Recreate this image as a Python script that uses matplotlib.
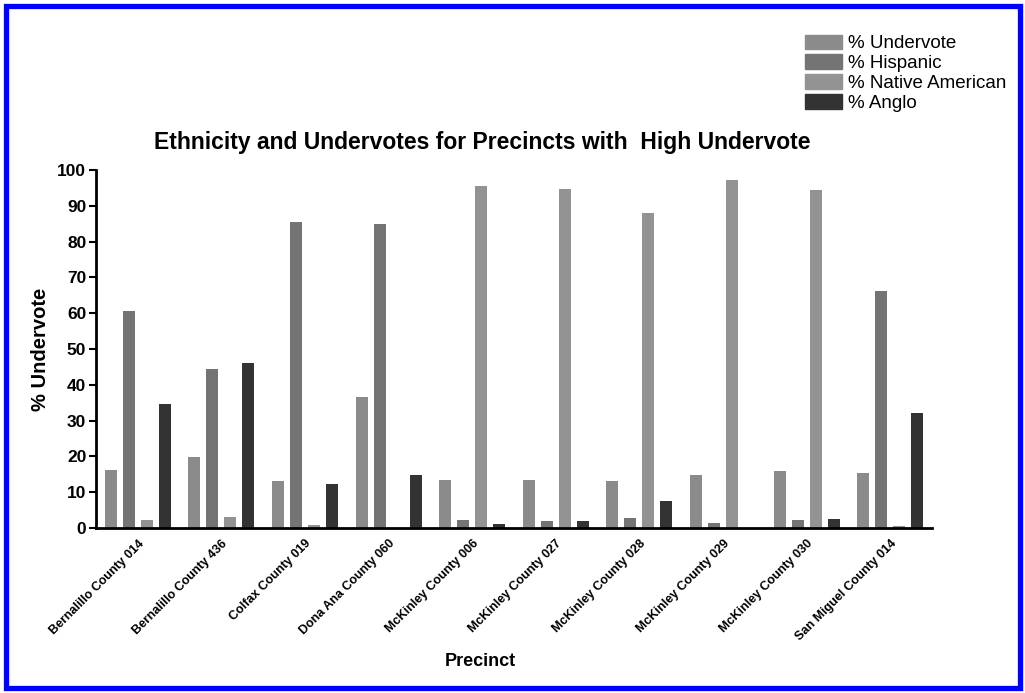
import numpy as np
import matplotlib
matplotlib.use("Agg")
import matplotlib.pyplot as plt
from matplotlib.patches import Rectangle, Patch

plt.rcParams['font.family'] = ['Liberation Sans', 'DejaVu Sans']

precincts = ["Bernalillo County 014", "Bernalillo County 436", "Colfax County 019",
             "Dona Ana County 060", "McKinley County 006", "McKinley County 027",
             "McKinley County 028", "McKinley County 029", "McKinley County 030",
             "San Miguel County 014"]
undervote = [16.2, 19.8, 13.1, 36.5, 13.3, 13.3, 13.1, 14.9, 15.8, 15.4]
hispanic = [60.5, 44.3, 85.6, 84.8, 2.2, 1.9, 2.8, 1.3, 2.2, 66.1]
native = [2.2, 3.1, 0.9, 0.0, 95.5, 94.7, 87.9, 97.1, 94.3, 0.5]
anglo = [34.6, 46.2, 12.4, 14.7, 1.0, 2.0, 7.5, 0.0, 2.6, 32.0]

series = [("% Undervote", undervote, "#8b8b8b"),
          ("% Hispanic", hispanic, "#747474"),
          ("% Native American", native, "#939393"),
          ("% Anglo", anglo, "#333333")]

fig = plt.figure(figsize=(10.25, 6.93), dpi=100)
ax = fig.add_axes([96/1025, 1-528/693, (932-96)/1025, (528-170)/693])

x = np.arange(len(precincts))
step = 0.215
width = 0.144
for i, (name, vals, col) in enumerate(series):
    ax.bar(x + (i - 1.5)*step, vals, width, color=col, label=name)

ax.set_xlim(-0.5, len(precincts) - 0.5)
ax.set_ylim(0, 100)
ax.set_yticks(range(0, 101, 10))
for s in ["top", "right"]:
    ax.spines[s].set_visible(False)
for s in ["left", "bottom"]:
    ax.spines[s].set_linewidth(2)
ax.tick_params(axis='y', direction='out', length=5, width=1.5, labelsize=12.5, pad=2)
for t in ax.get_yticklabels():
    t.set_fontweight('bold')
ax.set_xticks(x)
ax.set_xticklabels(precincts, rotation=45, ha='right', rotation_mode='anchor',
                   fontsize=9, fontweight='bold')
ax.tick_params(axis='x', length=0, pad=7)

ax.set_ylabel("% Undervote", fontsize=14.5, fontweight='bold', labelpad=5)
fig.text(480/1025, 1-662/693, "Precinct", fontsize=13, fontweight='bold',
         ha='center', va='center')
fig.text(482/1025, 1-142/693, "Ethnicity and Undervotes for Precincts with  High Undervote",
         fontsize=16.5, fontweight='bold', ha='center', va='center')

handles = [Patch(color=c, label=n) for n, v, c in series]
fig.legend(handles=handles, loc='upper left', bbox_to_anchor=(797/1025, 1-27/693),
           frameon=False, fontsize=13.5, handlelength=2.0, handleheight=0.8,
           labelspacing=0.12, handletextpad=0.3, borderaxespad=0)

fig.patches.append(Rectangle((5.5/1025, 5.5/693), 1-11/1025, 1-11/693,
                             transform=fig.transFigure, fill=False,
                             edgecolor='#0000ff', linewidth=3.8))

fig.savefig("out.png", dpi=100)
